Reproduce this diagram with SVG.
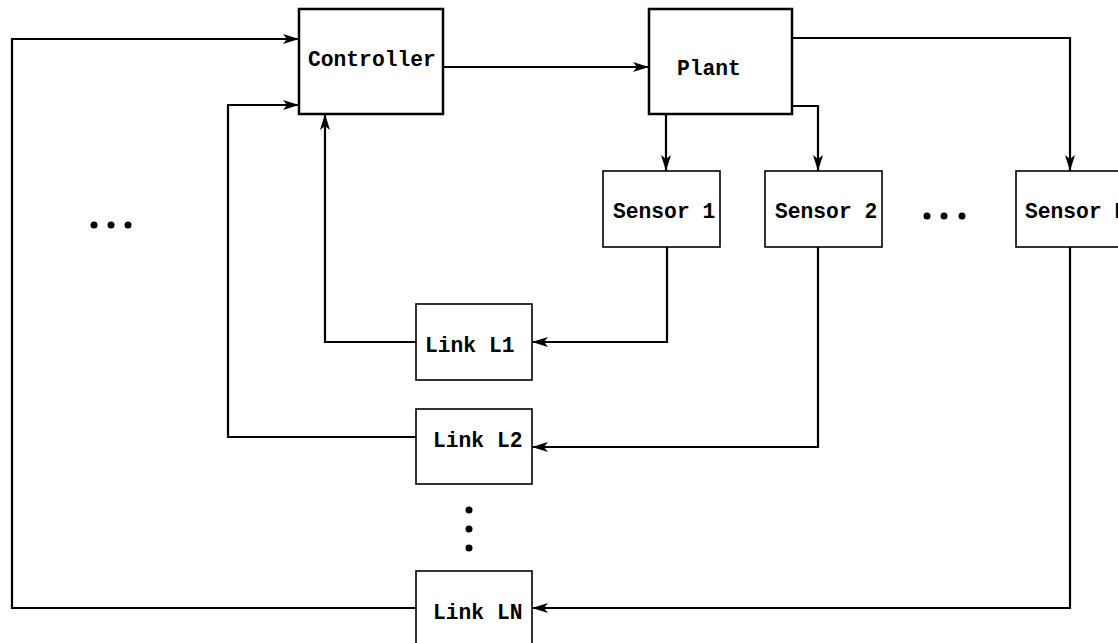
<svg xmlns="http://www.w3.org/2000/svg" width="1118" height="643" viewBox="0 0 1118 643">
<style>
.box{fill:#fff;stroke:#000;stroke-width:1.6}
.bold{stroke-width:2.5}
.lbl{font-family:"Liberation Mono","Courier New",monospace;font-weight:bold;font-size:21.3px;fill:#000}
.ln{fill:none;stroke:#000;stroke-width:2.2}
</style>
<defs>
<marker id="ah" viewBox="0 0 16 10" refX="16" refY="5" markerWidth="16" markerHeight="10" markerUnits="userSpaceOnUse" orient="auto">
<path d="M0,0 L16,5 L0,10 L4,5 Z" fill="#000"/>
</marker>
</defs>
<rect width="1118" height="643" fill="#fff"/>
<g id="connectors">
<line class="ln" x1="443" y1="67" x2="649" y2="67" marker-end="url(#ah)"/>
<line class="ln" x1="666" y1="114" x2="666" y2="171" marker-end="url(#ah)"/>
<polyline class="ln" points="792,106 818,106 818,171" marker-end="url(#ah)"/>
<polyline class="ln" points="792,38 1070,38 1070,171" marker-end="url(#ah)"/>
<polyline class="ln" points="667,247 667,342 532,342" marker-end="url(#ah)"/>
<polyline class="ln" points="818,247 818,447 532,447" marker-end="url(#ah)"/>
<polyline class="ln" points="1070,247 1070,608 532,608" marker-end="url(#ah)"/>
<polyline class="ln" points="416,342 325,342 325,114" marker-end="url(#ah)"/>
<polyline class="ln" points="416,437 228,437 228,105 299,105" marker-end="url(#ah)"/>
<polyline class="ln" points="416,608 12,608 12,39 299,39" marker-end="url(#ah)"/>
</g>
<g id="controller"><rect class="box bold" x="299" y="9" width="144" height="105"/><text class="lbl" x="308" y="66">Controller</text></g>
<g id="plant"><rect class="box bold" x="649" y="9" width="143" height="105"/><text class="lbl" x="677" y="75">Plant</text></g>
<g id="sensor1"><rect class="box" x="603" y="171" width="117" height="76"/><text class="lbl" x="613" y="218">Sensor 1</text></g>
<g id="sensor2"><rect class="box" x="765" y="171" width="117" height="76"/><text class="lbl" x="775" y="218">Sensor 2</text></g>
<g id="sensorN"><rect class="box" x="1016" y="171" width="117" height="76"/><text class="lbl" x="1025" y="218">Sensor N</text></g>
<g id="linkL1"><rect class="box" x="416" y="304" width="116" height="76"/><text class="lbl" x="425" y="352">Link L1</text></g>
<g id="linkL2"><rect class="box" x="416" y="409" width="116" height="75"/><text class="lbl" x="433" y="447">Link L2</text></g>
<g id="linkLN"><rect class="box" x="416" y="571" width="116" height="80"/><text class="lbl" x="433" y="619">Link LN</text></g>
<g id="dots" fill="#000">
<circle cx="94" cy="225" r="3.5"/><circle cx="111" cy="225" r="3.5"/><circle cx="128" cy="225" r="3.5"/>
<circle cx="927" cy="216" r="3.5"/><circle cx="944" cy="216" r="3.5"/><circle cx="962" cy="216" r="3.5"/>
<circle cx="469" cy="510" r="3.5"/><circle cx="469" cy="529" r="3.5"/><circle cx="469" cy="548" r="3.5"/>
</g>
</svg>
